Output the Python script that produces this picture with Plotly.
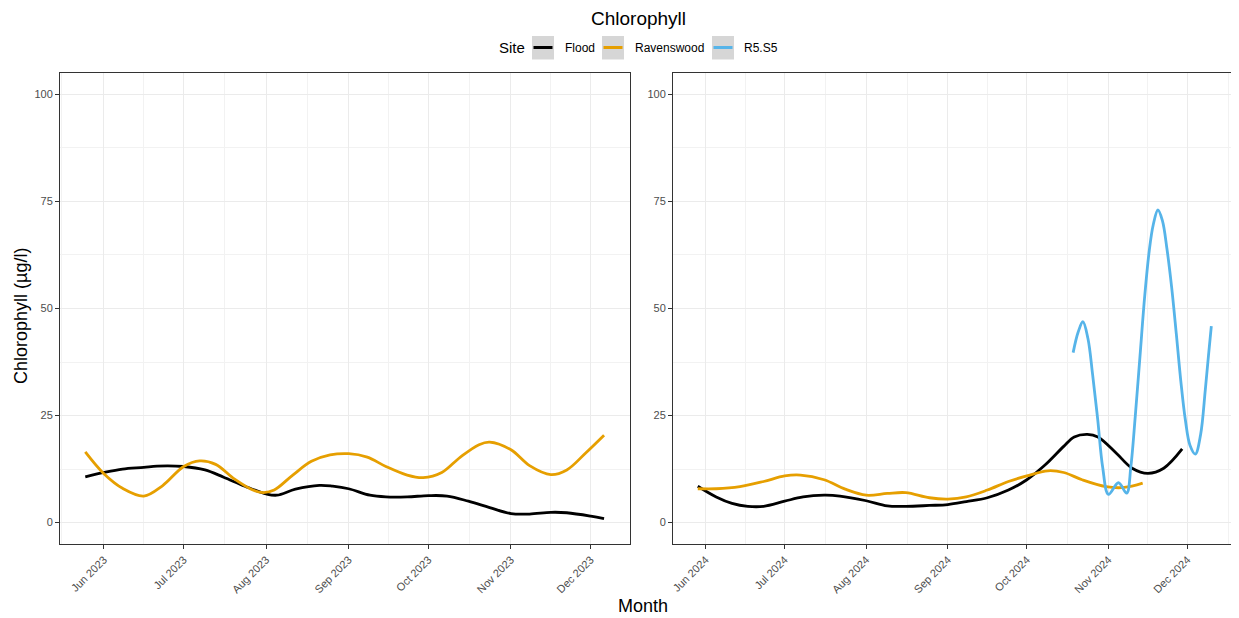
import plotly.graph_objects as go

# ---------------- data ----------------
flood_2023_dates = ["2023-05-25", "2023-06-01", "2023-06-08", "2023-06-16", "2023-06-21", "2023-07-01",
                    "2023-07-09", "2023-07-16", "2023-07-24", "2023-08-01", "2023-08-05", "2023-08-12",
                    "2023-08-21", "2023-08-26", "2023-09-01", "2023-09-09", "2023-09-15", "2023-09-23",
                    "2023-10-01", "2023-10-08", "2023-10-16", "2023-10-24", "2023-11-01", "2023-11-08",
                    "2023-11-16", "2023-11-22", "2023-12-01", "2023-12-06"]
flood_2023_vals = [10.7, 11.7, 12.5, 12.9, 13.2, 13.1, 12.3, 10.6, 8.5, 6.7, 6.4, 7.8,
                   8.7, 8.5, 7.9, 6.4, 6.0, 6.0, 6.3, 6.2, 5.0, 3.5, 2.1, 2.0,
                   2.4, 2.3, 1.5, 0.9]

raven_2023_dates = ["2023-05-25", "2023-06-01", "2023-06-08", "2023-06-16", "2023-06-23",
                    "2023-07-01", "2023-07-07", "2023-07-13", "2023-07-20", "2023-07-27", "2023-07-31",
                    "2023-08-04", "2023-08-11", "2023-08-18", "2023-08-25", "2023-09-01", "2023-09-08",
                    "2023-09-15", "2023-09-23", "2023-09-29", "2023-10-06", "2023-10-13", "2023-10-20",
                    "2023-10-24", "2023-11-01", "2023-11-08", "2023-11-16", "2023-11-22", "2023-11-29",
                    "2023-12-06"]
raven_2023_vals = [16.5, 11.4, 8.0, 6.2, 8.6, 13.1, 14.4, 13.6, 10.2, 7.6, 7.0,
                   7.6, 11.1, 14.3, 15.8, 16.1, 15.3, 13.1, 11.1, 10.5, 11.7, 15.3, 18.2,
                   18.8, 17.0, 13.3, 11.2, 12.3, 16.2, 20.4]

flood_2024_dates = ["2024-05-29", "2024-06-05", "2024-06-11", "2024-06-17", "2024-06-23", "2024-07-01",
                    "2024-07-08", "2024-07-16", "2024-07-22", "2024-08-01", "2024-08-09", "2024-08-16",
                    "2024-08-25", "2024-09-01", "2024-09-08", "2024-09-16", "2024-09-24", "2024-10-01",
                    "2024-10-08", "2024-10-15", "2024-10-19", "2024-10-24", "2024-10-28", "2024-11-04",
                    "2024-11-10", "2024-11-16", "2024-11-22", "2024-11-29"]
flood_2024_vals = [8.5, 6.0, 4.5, 3.8, 3.8, 5.0, 6.0, 6.4, 6.2, 5.1, 3.9, 3.8,
                   4.0, 4.2, 4.9, 5.8, 7.6, 10.0, 13.5, 17.8, 20.0, 20.6, 20.0, 16.2,
                   12.7, 11.5, 12.7, 17.2]

raven_2024_dates = ["2024-05-29", "2024-06-05", "2024-06-14", "2024-06-23", "2024-07-01", "2024-07-07",
                    "2024-07-16", "2024-07-24", "2024-08-01", "2024-08-09", "2024-08-16", "2024-08-25",
                    "2024-09-01", "2024-09-08", "2024-09-16", "2024-09-24", "2024-10-01", "2024-10-09",
                    "2024-10-15", "2024-10-22", "2024-10-31", "2024-11-07", "2024-11-14"]
raven_2024_vals = [7.9, 7.9, 8.4, 9.6, 10.9, 11.1, 10.0, 7.8, 6.4, 6.8, 7.0, 5.8,
                   5.5, 6.0, 7.6, 9.6, 10.9, 12.1, 11.7, 10.0, 8.4, 8.2, 9.2]

r5s5_2024_dates = ["2024-10-18 14:00", "2024-10-20 12:00", "2024-10-22 07:00", "2024-10-24 05:00",
                   "2024-10-26 00:00", "2024-10-27 22:00", "2024-10-29 19:00", "2024-11-01 00:00",
                   "2024-11-04 19:00", "2024-11-07 22:00", "2024-11-09 12:00", "2024-11-11 05:00",
                   "2024-11-13 00:00", "2024-11-14 19:00", "2024-11-16 12:00", "2024-11-18 00:00",
                   "2024-11-19 19:00", "2024-11-21 12:00", "2024-11-23 05:00", "2024-11-25 00:00",
                   "2024-11-26 19:00", "2024-11-28 12:00", "2024-11-30 05:00", "2024-12-02 00:00",
                   "2024-12-04 00:00", "2024-12-06 00:00", "2024-12-07 19:00", "2024-12-09 00:00",
                   "2024-12-10 02:00"]
r5s5_2024_vals = [39.7, 44.5, 46.9, 43.0, 34.5, 24.1, 13.0, 6.6,
                  9.3, 6.9, 13.0, 25.0, 39.0, 53.0, 63.5, 69.5,
                  73.0, 70.5, 64.0, 55.0, 44.0, 33.0, 24.0, 18.0,
                  16.0, 20.5, 31.0, 39.0, 45.9]

sites = ["Flood", "Ravenswood", "R5.S5"]
site_colors = {"Flood": "#000000", "Ravenswood": "#E69F00", "R5.S5": "#56B4E9"}

month_ticks_2023 = ["2023-06-01", "2023-07-01", "2023-08-01", "2023-09-01", "2023-10-01", "2023-11-01", "2023-12-01"]
month_labels_2023 = ["Jun 2023", "Jul 2023", "Aug 2023", "Sep 2023", "Oct 2023", "Nov 2023", "Dec 2023"]
minor_2023 = ["2023-05-16", "2023-06-16", "2023-07-16 12:00", "2023-08-16 12:00", "2023-09-16",
              "2023-10-16 12:00", "2023-11-16"]
month_ticks_2024 = ["2024-06-01", "2024-07-01", "2024-08-01", "2024-09-01", "2024-10-01", "2024-11-01", "2024-12-01"]
month_labels_2024 = ["Jun 2024", "Jul 2024", "Aug 2024", "Sep 2024", "Oct 2024", "Nov 2024", "Dec 2024"]
minor_2024 = ["2024-05-16 12:00", "2024-06-16", "2024-07-16 12:00", "2024-08-16 12:00", "2024-09-16",
              "2024-10-16 12:00", "2024-11-16", "2024-12-16 12:00"]

y_ticks = [0, 25, 50, 75, 100]

# ---------------- figure ----------------
fig = go.Figure()
LW = 2.8

def add(x, y, site, xa, ya):
    fig.add_trace(go.Scatter(x=x, y=y, mode="lines", name=site, legendgroup=site,
                             showlegend=False, xaxis=xa, yaxis=ya,
                             line=dict(color=site_colors[site], width=LW, shape="spline", smoothing=1.0),
                             hoverinfo="x+y+name"))

add(flood_2023_dates, flood_2023_vals, "Flood", "x", "y")
add(raven_2023_dates, raven_2023_vals, "Ravenswood", "x", "y")
add(flood_2024_dates, flood_2024_vals, "Flood", "x2", "y2")
add(raven_2024_dates, raven_2024_vals, "Ravenswood", "x2", "y2")
add(r5s5_2024_dates, r5s5_2024_vals, "R5.S5", "x2", "y2")

# the page body has an 8px margin, so the figure is drawn from (8, 8)
OFF = 8
W, H = 1231, 610
def px(x):
    return (x - OFF) / W
def py(y):
    return (H - (y - OFF)) / H

grid = "#EBEBEB"
minor_grid = "#F2F2F2"
border = "#333333"
FONT = "Liberation Sans, Arial, sans-serif"
tickfont = dict(family=FONT, size=11, color="#4D4D4D")

common_x = dict(type="date", showgrid=True, gridcolor=grid, gridwidth=1,
                showline=True, mirror=True, linecolor=border, linewidth=1,
                ticks="outside", ticklen=4, tickcolor=border, tickangle=-45,
                tickfont=tickfont, zeroline=False, automargin=False)
common_y = dict(range=[-5, 105], tickvals=y_ticks, showgrid=True, gridcolor=grid, gridwidth=1,
                showline=True, mirror=True, linecolor=border, linewidth=1,
                ticks="outside", ticklen=4, tickcolor=border, tickfont=tickfont,
                zeroline=False, automargin=False,
                minor=dict(tickvals=[12.5, 37.5, 62.5, 87.5], showgrid=True, gridcolor=minor_grid,
                           gridwidth=0.6, ticks=""))

# ---- legend drawn as ggplot-style keys (grey boxes with short lines) ----
legend_box_left = {"Flood": 532, "Ravenswood": 602, "R5.S5": 712}
legend_text_left = {"Flood": 563, "Ravenswood": 633, "R5.S5": 742}
shapes = []
annotations = []
for s in sites:
    bx = legend_box_left[s]
    shapes.append(dict(type="rect", xref="paper", yref="paper",
                       x0=px(bx), x1=px(bx + 22), y0=py(59.5), y1=py(36),
                       fillcolor="#D6D6D6", line=dict(width=0), layer="above"))
    shapes.append(dict(type="line", xref="paper", yref="paper",
                       x0=px(bx + 1.5), x1=px(bx + 20.5), y0=py(47.5), y1=py(47.5),
                       line=dict(color=site_colors[s], width=3), layer="above"))
    annotations.append(dict(text=s, x=px(legend_text_left[s]), y=py(48), xref="paper", yref="paper",
                            showarrow=False, font=dict(size=12, family=FONT, color="#000000"),
                            xanchor="left", yanchor="middle"))
annotations.append(dict(text="Site", x=px(497), y=py(48), xref="paper", yref="paper",
                        showarrow=False, font=dict(size=15, family=FONT, color="#000000"),
                        xanchor="left", yanchor="middle"))

annotations += [
    dict(text="Chlorophyll", x=px(638), y=py(18), xref="paper", yref="paper",
         showarrow=False, font=dict(size=19, family=FONT), xanchor="center", yanchor="middle"),
    dict(text="Month", x=px(643), y=py(606), xref="paper", yref="paper",
         showarrow=False, font=dict(size=18, family=FONT), xanchor="center", yanchor="middle"),
    dict(text="Chlorophyll (µg/l)", x=px(9), y=py(316), xref="paper", yref="paper",
         showarrow=False, font=dict(size=18, family=FONT), textangle=-90, xanchor="left", yanchor="middle"),
]

fig.update_layout(
    width=W, height=H,
    margin=dict(l=0, r=0, t=0, b=0),
    paper_bgcolor="white", plot_bgcolor="white",
    font=dict(family=FONT, color="#000000"),
    showlegend=False,
    xaxis=dict(common_x, domain=[px(60), px(630)], anchor="y",
               range=["2023-05-15 12:00", "2023-12-15 18:00"],
               tickvals=month_ticks_2023, ticktext=month_labels_2023,
               minor=dict(tickvals=minor_2023, showgrid=True, gridcolor=minor_grid, gridwidth=0.6, ticks="")),
    yaxis=dict(common_y, domain=[py(544), py(73)], anchor="x"),
    xaxis2=dict(common_x, domain=[px(673), px(1237)], anchor="y2",
                range=["2024-05-19 14:00", "2024-12-19 20:00"],
                tickvals=month_ticks_2024, ticktext=month_labels_2024,
                minor=dict(tickvals=minor_2024, showgrid=True, gridcolor=minor_grid, gridwidth=0.6, ticks="")),
    yaxis2=dict(common_y, domain=[py(544), py(73)], anchor="x2"),
    shapes=shapes,
    annotations=annotations,
)

fig.write_html("out.html")
